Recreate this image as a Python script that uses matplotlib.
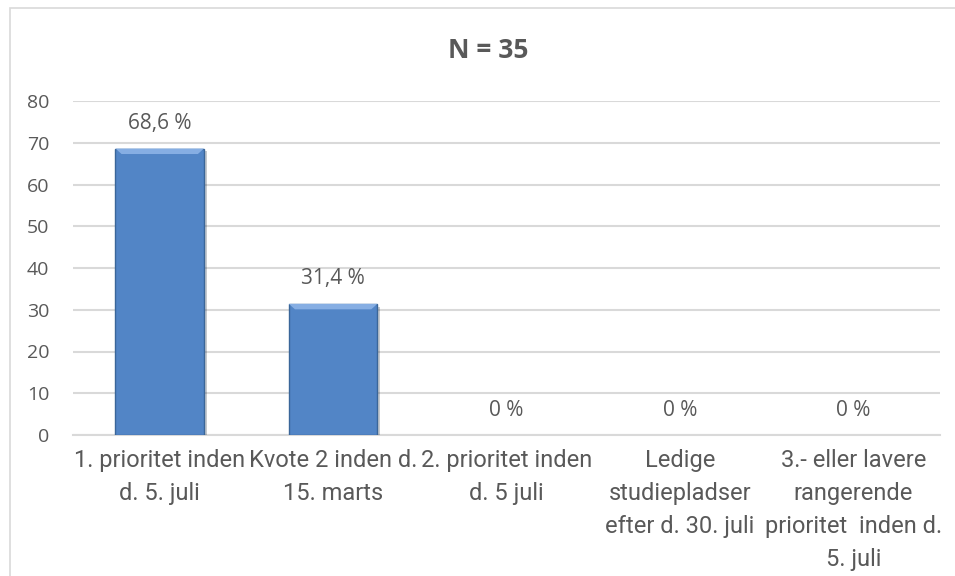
"""
Bar chart: N = 35, share per admission route.
"""
import matplotlib
matplotlib.use('Agg')
import matplotlib.pyplot as plt
import matplotlib.patheffects as pe
from matplotlib.patches import Polygon, Rectangle

categories = ['1. prioritet inden\nd. 5. juli',
              'Kvote 2 inden d.\n15. marts',
              '2. prioritet inden\nd. 5 juli',
              'Ledige\nstudiepladser\nefter d. 30. juli',
              '3.- eller lavere\nrangerende\nprioritet  inden d.\n5. juli']
values = [68.6, 31.4, 0, 0, 0]
value_labels = ['68,6 %', '31,4 %', '0 %', '0 %', '0 %']
yticks = [0, 10, 20, 30, 40, 50, 60, 70, 80]
title = 'N = 35'

TEXT = '#595959'
GRID = '#D9D9D9'
BLUE = '#5285C6'
EDGE = '#3A6699'
LIGHT = '#86AEE3'

fig = plt.figure(figsize=(9.55, 5.76), dpi=100)
fig.patches.append(Rectangle((10 / 955, -0.01), 1.0, 1 - 8 / 576 + 0.01,
                             transform=fig.transFigure, fill=False,
                             edgecolor=GRID, linewidth=1.2))
ax = fig.add_axes([73 / 955, 1 - 435 / 576, (940 - 73) / 955, (435 - 101) / 576])

x = list(range(len(categories)))
width = 0.51
bars = ax.bar(x, values, width=width, color=BLUE, edgecolor=EDGE,
              linewidth=1.0, zorder=3)
for b in bars:
    if b.get_height() <= 0:
        b.set_visible(False)
        continue
    b.set_path_effects([pe.SimplePatchShadow(offset=(2, -2), alpha=0.25),
                        pe.Normal()])
    # light bevel along the top of the bar
    x0, x1 = b.get_x(), b.get_x() + b.get_width()
    top = b.get_height()
    dx, dy = 0.035, 1.3
    ax.add_patch(Polygon([(x0, top), (x1, top), (x1 - dx, top - dy),
                          (x0 + dx, top - dy)], closed=True,
                         facecolor=LIGHT, edgecolor='none', zorder=4))

for xi, v, lab in zip(x, values, value_labels):
    ax.annotate(lab, (xi, v), xytext=(0, 18), textcoords='offset points',
                ha='center', va='center', fontsize=15, color=TEXT,
                family='Open Sans')

ax.set_xlim(-0.5, len(categories) - 0.5)
ax.set_ylim(0, 80)
ax.set_yticks(yticks)
ax.set_xticks(x)
ax.set_xticklabels(categories, fontsize=17, color=TEXT,
                   family='Roboto', linespacing=1.55)
ax.tick_params(axis='x', length=0, pad=10)
ax.tick_params(axis='y', length=0, pad=17, labelsize=14, labelcolor=TEXT)
for t in ax.get_yticklabels():
    t.set_family('Open Sans')

ax.grid(axis='y', color=GRID, linewidth=1.5, zorder=0)
ax.set_axisbelow(True)
for s in ['top', 'right', 'left']:
    ax.spines[s].set_visible(False)
ax.spines['bottom'].set_color(GRID)
ax.spines['bottom'].set_linewidth(1.5)

fig.text(488 / 955, 1 - 51 / 576, title, ha='center', va='center',
         fontsize=19, fontweight='bold', color=TEXT, family='Open Sans')

fig.savefig('out.png', dpi=100)
